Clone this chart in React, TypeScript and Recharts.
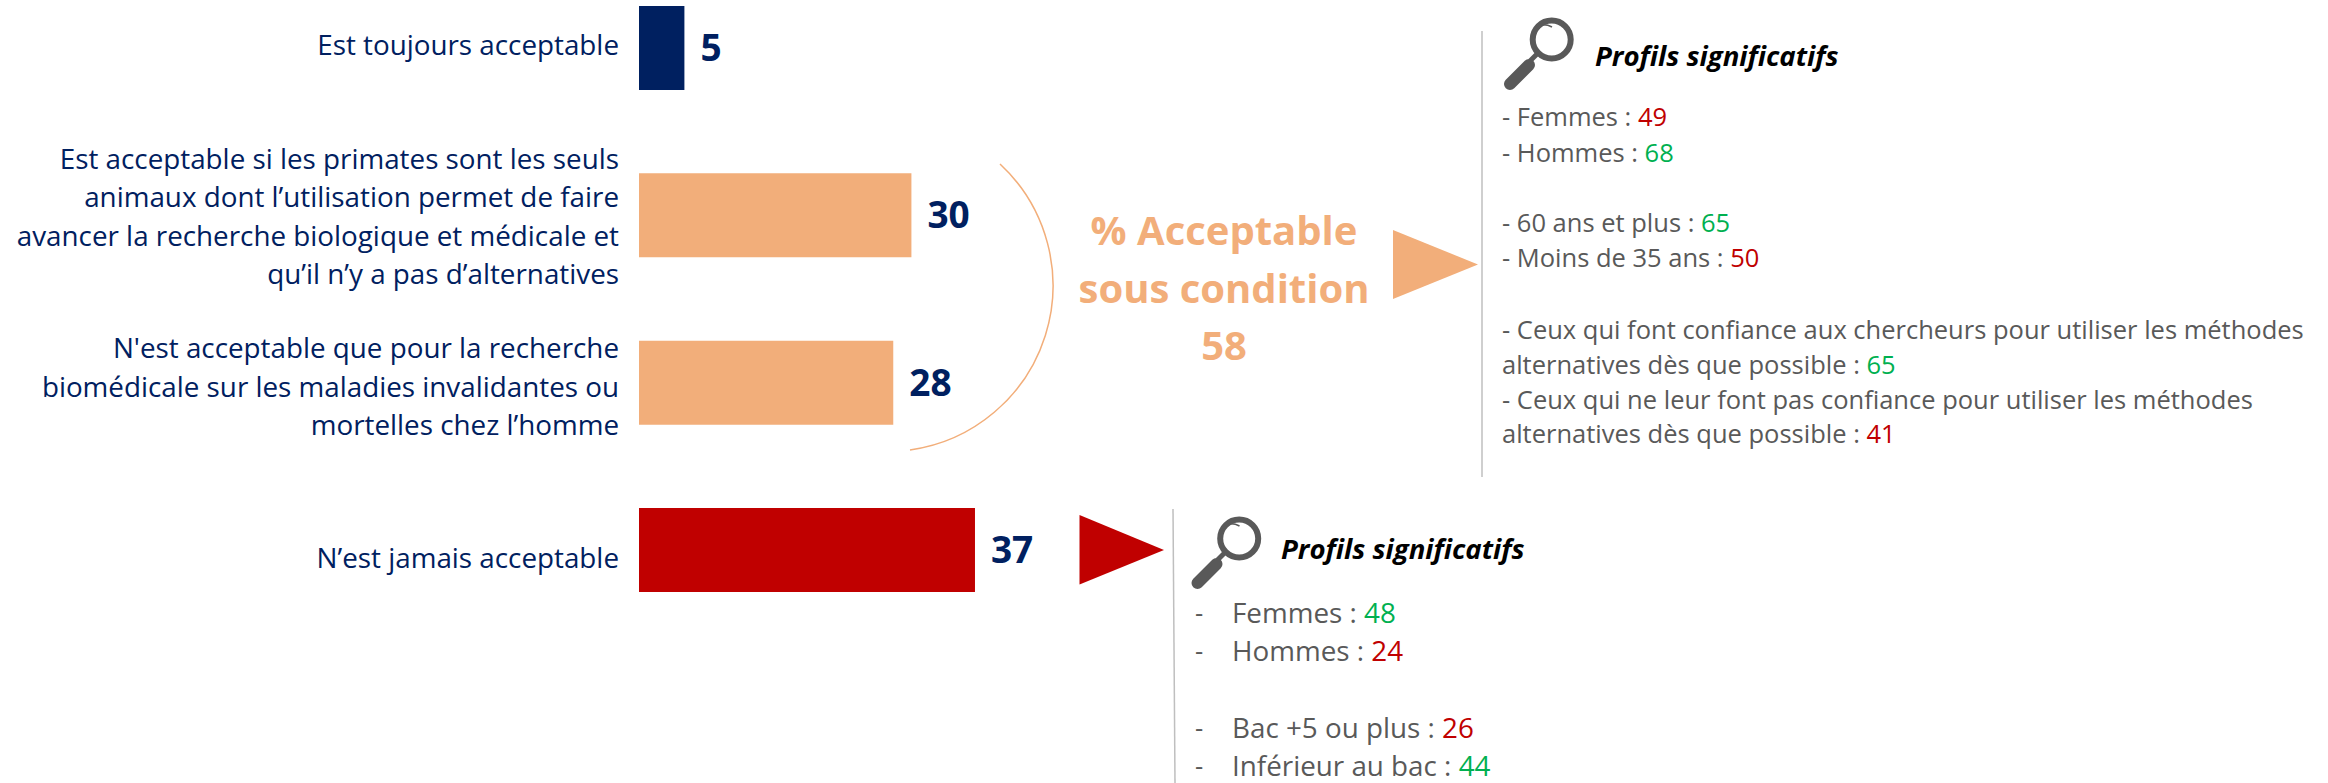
import React from "react";
import { BarChart, Bar, XAxis, YAxis, Cell, LabelList } from "recharts";

const categories = [
  ["Est toujours acceptable"],
  ["Est acceptable si les primates sont les seuls", "animaux dont l’utilisation permet de faire", "avancer la recherche biologique et médicale et", "qu’il n’y a pas d’alternatives"],
  ["N'est acceptable que pour la recherche", "biomédicale sur les maladies invalidantes ou", "mortelles chez l’homme"],
  ["N’est jamais acceptable"],
];
const values = [5, 30, 28, 37];
const barColors = ["#002060", "#F2AE7A", "#F2AE7A", "#C00000"];
const rows = categories.map((lines, i) => ({ name: lines.join("|"), value: values[i] }));
const tickNudge = [-4, 0.5, 3.5, 7.5];

const NAVY = "#002060", ORANGE = "#F2AE7A", RED = "#C00000", GREEN = "#00B050", GREY = "#595959";
const FONT = "'Open Sans', sans-serif";

type Item = { y: number; text: string; val?: string; color?: string };
const upperList: Item[] = [
  { y: 116, text: "- Femmes : ", val: "49", color: RED },
  { y: 152, text: "- Hommes : ", val: "68", color: GREEN },
  { y: 222, text: "- 60 ans et plus : ", val: "65", color: GREEN },
  { y: 257, text: "- Moins de 35 ans : ", val: "50", color: RED },
  { y: 328.5, text: "- Ceux qui font confiance aux chercheurs pour utiliser les méthodes" },
  { y: 363.5, text: "alternatives dès que possible : ", val: "65", color: GREEN },
  { y: 398.5, text: "- Ceux qui ne leur font pas confiance pour utiliser les méthodes" },
  { y: 433, text: "alternatives dès que possible : ", val: "41", color: RED },
];
const lowerList: Item[] = [
  { y: 611.5, text: "Femmes : ", val: "48", color: GREEN },
  { y: 649.5, text: "Hommes : ", val: "24", color: RED },
  { y: 726.5, text: "Bac +5 ou plus : ", val: "26", color: RED },
  { y: 764.5, text: "Inférieur au bac : ", val: "44", color: GREEN },
];
const centerLines = [
  { y: 229, text: "% Acceptable" },
  { y: 287, text: "sous condition" },
  { y: 344, text: "58" },
];

const CategoryTick = (p: any) => {
  const lines = String(p.payload.value).split("|");
  const step = 38.6;
  const top = p.y - ((lines.length - 1) * step) / 2 + tickNudge[p.index];
  return (
    <text fontFamily={FONT} fontSize={27.8} fill={NAVY} textAnchor="end">
      {lines.map((l, i) => (
        <tspan key={i} x={p.x} y={top + i * step} dominantBaseline="central">{l}</tspan>
      ))}
    </text>
  );
};

const Glass = ({ dx, dy }: { dx: number; dy: number }) => (
  <g transform={`translate(${dx} ${dy})`}>
    <circle cx={1551.7} cy={39.5} r={19} fill="none" stroke="#595959" strokeWidth={6} />
    <path d="M1541 25 A18 18 0 0 1 1552 27" fill="none" stroke="#595959" strokeWidth={1.5} />
    <line x1={1537} y1={54} x2={1530} y2={61} stroke="#595959" strokeWidth={5} />
    <line x1={1529} y1={65} x2={1510} y2={84} stroke="#595959" strokeWidth={12} strokeLinecap="round" />
  </g>
);

const Listing = ({ items, x, size }: { items: Item[]; x: number; size: number }) => (
  <>
    {items.map((it, i) => (
      <text key={i} x={x} y={it.y} dominantBaseline="central" fontFamily={FONT} fontSize={size} fill={GREY} xmlSpace="preserve">
        {it.text}
        {it.val && <tspan fill={it.color}>{it.val}</tspan>}
      </text>
    ))}
  </>
);

export default function App() {
  return (
    <div style={{ position: "absolute", left: 0, top: 0, width: 2328, height: 783, background: "#fff", overflow: "hidden" }}>
      <div style={{ position: "absolute", left: 0, top: 0 }}>
        <BarChart width={2328} height={783} data={rows} layout="vertical" barCategoryGap={0} margin={{ top: -36, right: 0, bottom: 149.6, left: 0 }}>
          <XAxis type="number" domain={[0, 186]} hide />
          <YAxis type="category" dataKey="name" width={639} axisLine={false} tickLine={false} tickMargin={14} interval={0} tick={CategoryTick as any} />
          <Bar dataKey="value" barSize={84} isAnimationActive={false}>
            {rows.map((r, i) => <Cell key={r.name} fill={barColors[i]} />)}
            <LabelList dataKey="value" position="right" offset={16} fill={NAVY} fontFamily={FONT} fontWeight={700} fontSize={37} />
          </Bar>
        </BarChart>
      </div>
      <svg width={2328} height={783} style={{ position: "absolute", left: 0, top: 0 }}>
        <path d="M1000 164 A166 166 0 0 1 910 450" fill="none" stroke={ORANGE} strokeWidth={1.5} />
        {centerLines.map((l) => (
          <text key={l.text} x={1224} y={l.y} dominantBaseline="central" textAnchor="middle" fontFamily={FONT} fontWeight={700} fontSize={40} fill={ORANGE}>{l.text}</text>
        ))}
        <polygon points="1393,230 1478,264.5 1393,299" fill={ORANGE} />
        <polygon points="1079.5,515 1164,550 1079.5,584.5" fill={RED} />
        <line x1={1482} y1={31} x2={1482} y2={477} stroke="#BFBFBF" strokeWidth={1.5} />
        <line x1={1173} y1={509} x2={1175} y2={783} stroke="#BFBFBF" strokeWidth={1.5} />
        <Glass dx={0} dy={0} />
        <Glass dx={-312.5} dy={499} />
        <text x={1595} y={55} dominantBaseline="central" fontFamily={FONT} fontWeight={700} fontStyle="italic" fontSize={27.6} fill="#000">Profils significatifs</text>
        <text x={1281} y={547.5} dominantBaseline="central" fontFamily={FONT} fontWeight={700} fontStyle="italic" fontSize={27.6} fill="#000">Profils significatifs</text>
        <Listing items={upperList} x={1502} size={25.5} />
        {lowerList.map((it) => (
          <text key={it.text} x={1195} y={it.y} dominantBaseline="central" fontFamily={FONT} fontSize={25.5} fill={GREY}>-</text>
        ))}
        <Listing items={lowerList} x={1232} size={27.8} />
      </svg>
    </div>
  );
}
